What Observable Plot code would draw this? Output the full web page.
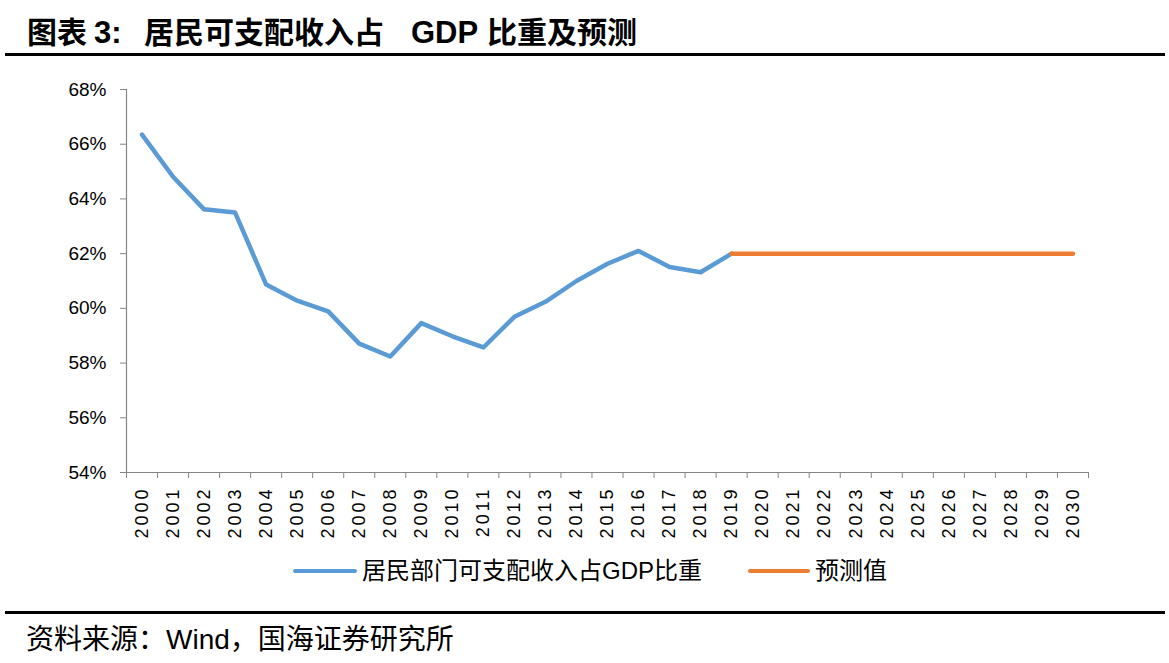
<!DOCTYPE html>
<html>
<head>
<meta charset="utf-8">
<script src="https://cdn.jsdelivr.net/npm/d3@7"></script>
<script src="https://cdn.jsdelivr.net/npm/@observablehq/plot@0.6"></script>
<style>
  html, body { margin: 0; padding: 0; background: #fff; }
  body { position: relative; width: 1169px; height: 663px; overflow: hidden; font-family: "Liberation Sans", Arial, "Noto Sans CJK SC", sans-serif; }
  .title { position: absolute; left: 0; top: 14px; height: 38px; width: 1169px; font-size: 30px; font-weight: bold; line-height: 38px; font-family: "Liberation Sans", Arial, "Noto Sans CJK SC", sans-serif; color: #000; }
  .title span { position: absolute; top: 0; white-space: nowrap; }
  .rule { position: absolute; left: 5px; width: 1160px; background: #000; }
  #chart { position: absolute; left: 0; top: 60px; }
  .leg-line { position: absolute; height: 4px; border-radius: 2px; }
  .leg-text { position: absolute; font-size: 24px; line-height: 30px; font-family: "Liberation Sans", Arial, "Noto Sans CJK SC", sans-serif; color: #000; white-space: nowrap; }
  .source { position: absolute; left: 26px; top: 624px; font-size: 28px; line-height: 32px; font-family: "Liberation Sans", Arial, "Noto Sans CJK SC", sans-serif; color: #000; white-space: nowrap; }
  #chart svg [aria-label="x-axis tick label"] text { letter-spacing: 3px; }
</style>
</head>
<body>
<div class="title">
  <span style="left:27px;">图表</span>
  <span style="left:94px;font-size:31px;">3:</span>
  <span style="left:144px;">居民可支配收入占</span>
  <span style="left:411px;font-size:31px;">GDP</span>
  <span style="left:487px;">比重及预测</span>
</div>
<div class="rule" style="top:53px;height:3px;"></div>
<div id="chart"></div>
<div class="leg-line" style="left:293px;top:569px;width:64px;background:#5B9BD5;"></div>
<div class="leg-text" id="leg1" style="left:362px;top:556px;"></div>
<div class="leg-line" style="left:748px;top:569px;width:62px;background:#ED7D31;"></div>
<div class="leg-text" id="leg2" style="left:815px;top:556px;"></div>
<div class="rule" style="top:611px;height:2.5px;"></div>
<div class="source">资料来源：Wind，国海证券研究所</div>
<script>
const years = [2000,2001,2002,2003,2004,2005,2006,2007,2008,2009,2010,2011,2012,2013,2014,2015,2016,2017,2018,2019,2020,2021,2022,2023,2024,2025,2026,2027,2028,2029,2030];
const histYears = [2000,2001,2002,2003,2004,2005,2006,2007,2008,2009,2010,2011,2012,2013,2014,2015,2016,2017,2018,2019];
const histValues = [66.35,64.81,63.62,63.50,60.87,60.28,59.89,58.71,58.24,59.46,58.98,58.57,59.69,60.24,61.00,61.63,62.10,61.51,61.32,62.00];
const forecastYears = [2019,2020,2021,2022,2023,2024,2025,2026,2027,2028,2029,2030];
const forecastValues = [62,62,62,62,62,62,62,62,62,62,62,62];
const yTicks = [54,56,58,60,62,64,66,68];
const seriesNames = ["居民部门可支配收入占GDP比重", "预测值"];
const colors = ["#5B9BD5", "#ED7D31"];

document.getElementById("leg1").textContent = seriesNames[0];
document.getElementById("leg2").textContent = seriesNames[1];

const hist = histYears.map((y, i) => ({year: y, value: histValues[i]}));
const forecast = forecastYears.map((y, i) => ({year: y, value: forecastValues[i]}));
const xMin = years[0] - 0.5, xMax = years[years.length - 1] + 0.5;
const boundaries = years.map(y => y - 0.5).concat([xMax]);

const chart = Plot.plot({
  width: 1169,
  height: 480,
  marginLeft: 126,
  marginRight: 81,
  marginTop: 29,
  marginBottom: 68,
  style: {fontFamily: "Liberation Sans, Arial, sans-serif", color: "#000", background: "#fff"},
  x: {type: "linear", domain: [xMin, xMax], label: null},
  y: {domain: [yTicks[0], yTicks[yTicks.length - 1]], label: null},
  marks: [
    Plot.axisY({ticks: yTicks, tickSize: 6, tickPadding: 14, tickFormat: d => d + "%", stroke: "#868686", fontSize: 19, label: null}),
    Plot.axisX({ticks: boundaries, tickSize: 6, tickFormat: () => "", stroke: "#868686", label: null}),
    Plot.axisX({ticks: years, tickSize: 0, tickPadding: 14, tickRotate: -90, tickFormat: d => String(d), fontSize: 18, label: null}),
    Plot.ruleY([yTicks[0]], {stroke: "#868686", strokeWidth: 1.2}),
    Plot.ruleX([xMin], {stroke: "#868686", strokeWidth: 1.2}),
    Plot.lineY(hist, {x: "year", y: "value", stroke: colors[0], strokeWidth: 4.5, strokeLinecap: "round", strokeLinejoin: "round"}),
    Plot.lineY(forecast, {x: "year", y: "value", stroke: colors[1], strokeWidth: 4.5, strokeLinejoin: "round"})
  ]
});
document.getElementById("chart").appendChild(chart);
</script>
</body>
</html>
